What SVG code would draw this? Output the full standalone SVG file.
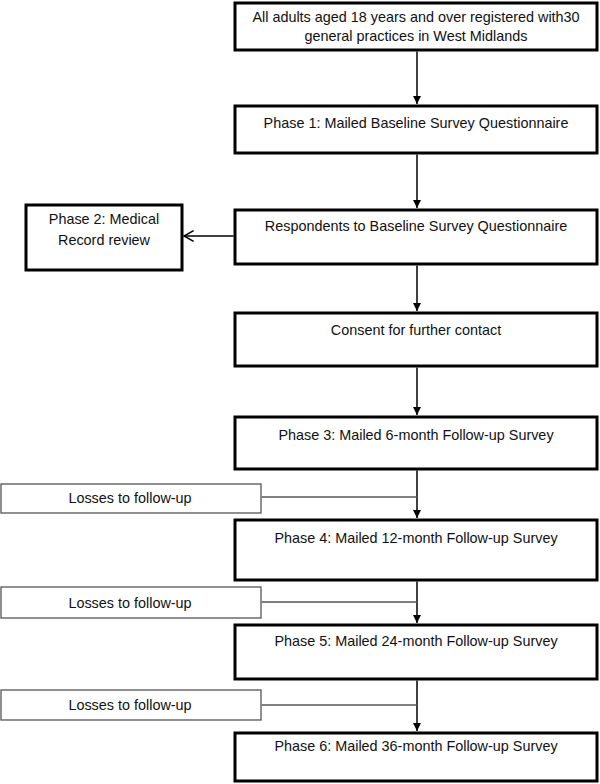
<svg xmlns="http://www.w3.org/2000/svg" width="600" height="784" viewBox="0 0 600 784">
<style>
.main{fill:#fff;stroke:#000;stroke-width:3}
.side{fill:#fff;stroke:#000;stroke-width:3}
.loss{fill:#fff;stroke:#555;stroke-width:1.3}
text{font-family:"Liberation Sans",Arial,sans-serif;font-size:14.4px;fill:#111;text-anchor:middle}
.conn{stroke:#000;stroke-width:1.5;fill:none}
.lconn{stroke:#555;stroke-width:1.3;fill:none}
</style>
<defs>
<marker id="ah" viewBox="0 0 10 10" refX="10" refY="5" markerWidth="8" markerHeight="8" markerUnits="userSpaceOnUse" orient="auto"><path d="M0,0 L10,5 L0,10 z" fill="#000"/></marker>
<marker id="oa" viewBox="0 0 10 10" refX="9" refY="5" markerWidth="12" markerHeight="12" markerUnits="userSpaceOnUse" orient="auto"><path d="M1,0.5 L9,5 L1,9.5" fill="none" stroke="#000" stroke-width="1.2"/></marker>
</defs>
<g id="n1"><rect class="main" x="235" y="3" width="362" height="47"/><text x="416" y="22">All adults aged 18 years and over registered with30</text><text x="416" y="41">general practices in West Midlands</text></g>
<g id="n2"><rect class="main" x="235" y="106" width="362" height="47"/><text x="416" y="128">Phase 1: Mailed Baseline Survey Questionnaire</text></g>
<g id="n3"><rect class="main" x="235" y="210" width="362" height="54"/><text x="416" y="231">Respondents to Baseline Survey Questionnaire</text></g>
<g id="n3b"><rect class="side" x="26" y="205" width="156" height="65"/><text x="104" y="224">Phase 2: Medical</text><text x="104" y="245">Record review</text></g>
<g id="n4"><rect class="main" x="235" y="313" width="362" height="53"/><text x="416" y="335">Consent for further contact</text></g>
<g id="n5"><rect class="main" x="235" y="417" width="362" height="52"/><text x="416" y="440">Phase 3: Mailed 6-month Follow-up Survey</text></g>
<g id="l1"><rect class="loss" x="1" y="484" width="260" height="29"/><text x="130" y="503">Losses to follow-up</text></g>
<g id="n6"><rect class="main" x="235" y="520" width="362" height="60"/><text x="416" y="543">Phase 4: Mailed 12-month Follow-up Survey</text></g>
<g id="l2"><rect class="loss" x="1" y="587" width="260" height="31"/><text x="130" y="608">Losses to follow-up</text></g>
<g id="n7"><rect class="main" x="235" y="625" width="362" height="54"/><text x="416" y="646">Phase 5: Mailed 24-month Follow-up Survey</text></g>
<g id="l3"><rect class="loss" x="1" y="690" width="260" height="30"/><text x="130" y="710">Losses to follow-up</text></g>
<g id="n8"><rect class="main" x="235" y="733" width="362" height="48"/><text x="416" y="751">Phase 6: Mailed 36-month Follow-up Survey</text></g>
<g id="connectors">
<path class="conn" d="M417,51.5 V104" marker-end="url(#ah)"/>
<path class="conn" d="M417,154.5 V208" marker-end="url(#ah)"/>
<path class="conn" d="M233.5,236 H184" marker-end="url(#oa)"/>
<path class="conn" d="M417,265.5 V311" marker-end="url(#ah)"/>
<path class="conn" d="M417,367.5 V415" marker-end="url(#ah)"/>
<path class="conn" d="M417,470.5 V518" marker-end="url(#ah)"/>
<path class="lconn" d="M261.7,497 H417"/>
<path class="conn" d="M417,581.5 V623" marker-end="url(#ah)"/>
<path class="lconn" d="M261.7,602 H417"/>
<path class="conn" d="M417,680.5 V731" marker-end="url(#ah)"/>
<path class="lconn" d="M261.7,705 H417"/>
</g>
</svg>
